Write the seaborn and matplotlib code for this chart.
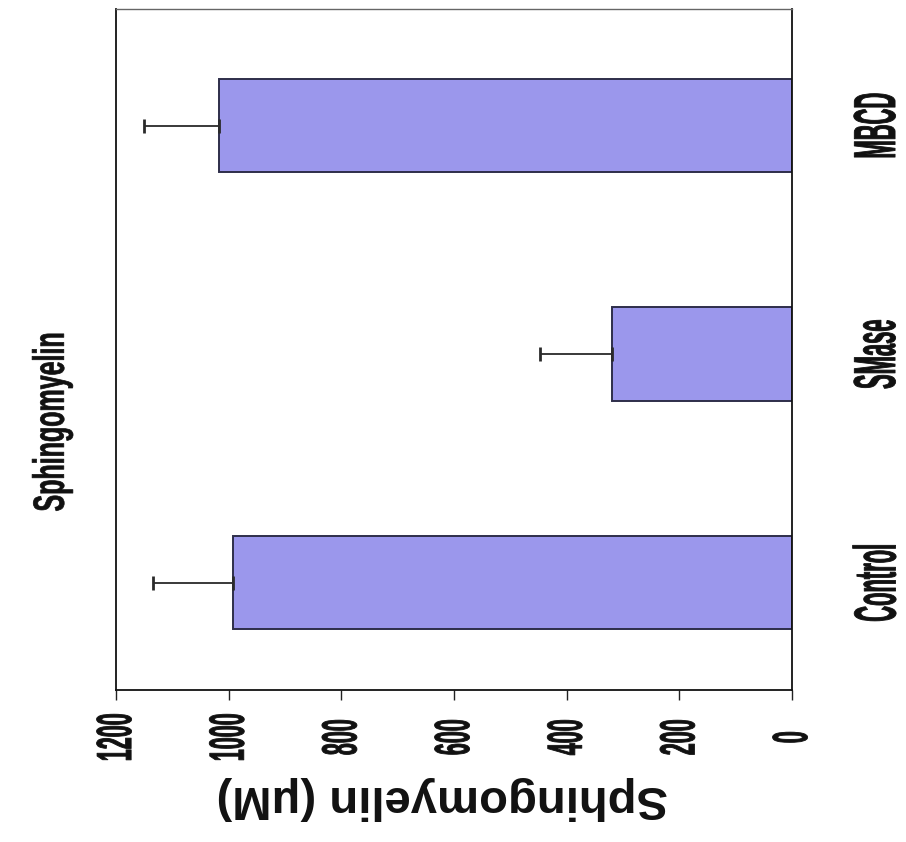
import matplotlib
matplotlib.use("Agg")
import matplotlib.pyplot as plt
import seaborn as sns
import pandas as pd
from matplotlib.patheffects import AbstractPathEffect
from matplotlib.transforms import Affine2D

# ---- data ----
categories = ["Control", "SMase", "MBCD"]
means = [992, 319, 1018]
errors = [142, 128, 133]
x_ticks = [0, 200, 400, 600, 800, 1000, 1200]
title = "Sphingomyelin"
value_label = "Sphingomyelin (\u03bcM)"

sns.set_style("white")
plt.rcParams["font.family"] = ["Liberation Sans", "DejaVu Sans"]


class Stretch(AbstractPathEffect):
    """Stretch glyphs perpendicular to the baseline (tall condensed look)."""

    def __init__(self, sx=1.0, sy=1.0, lw=0.0):
        super().__init__()
        self.sx, self.sy, self.lw = sx, sy, lw

    def draw_path(self, renderer, gc, tpath, affine, rgbFace=None):
        ext = tpath.get_extents()
        cx = (ext.x0 + ext.x1) / 2
        cy = (ext.y0 + ext.y1) / 2
        t = (Affine2D().translate(-cx, -cy).scale(self.sx, self.sy)
             .translate(cx, cy) + affine)
        gc0 = renderer.new_gc()
        gc0.copy_properties(gc)
        if self.lw and rgbFace is not None:
            gc0.set_linewidth(self.lw)
            gc0.set_foreground(rgbFace)
            gc0.set_joinstyle("round")
        renderer.draw_path(gc0, tpath, t, rgbFace)
        gc0.restore()


df = pd.DataFrame({"cat": categories, "val": means})
order = categories[::-1]  # MBCD at top, Control at bottom

fig = plt.figure(figsize=(9.06, 8.42), dpi=100)
ax = fig.add_axes([116 / 906, 1 - 690 / 842, (792 - 116) / 906, (690 - 9) / 842])

sns.barplot(data=df, x="val", y="cat", order=order, orient="h",
            color="#9b97ec", width=0.41, saturation=1,
            edgecolor="#2e2e4a", linewidth=1.4, errorbar=None, ax=ax)

# one-sided error bars toward larger values
pos = {c: i for i, c in enumerate(order)}
ys = [pos[c] for c in categories]
ax.errorbar(means, ys, xerr=[[0] * len(errors), errors], fmt="none",
            ecolor="#2a2a2a", elinewidth=1.3, capsize=5, capthick=2)

ax.set_xlim(1200, 0)
ax.set_ylim(2.47, -0.51)
ax.set_xticks(x_ticks)
xl = ax.set_xticklabels([str(t) for t in x_ticks], rotation=90, va="center",
                        fontweight="bold", fontsize=15.5, color="#111111")
for t in xl:
    t.set_path_effects([Stretch(1.0, 2.3, 0.6)])
ax.tick_params(axis="x", bottom=True, length=7, width=1, pad=27, color="#222222")

ax.yaxis.tick_right()
ax.set_yticks(range(len(order)))
yl = ax.set_yticklabels(order, rotation=90, ha="center", va="center",
                        fontweight="bold", fontsize=15.8, color="#111111")
for t in yl:
    t.set_path_effects([Stretch(1.0, 2.7, 0.6)])
ax.tick_params(axis="y", length=0, pad=61, left=False, right=False)

ax.set_ylabel("")
ax.set_xlabel("")
fig.text(442 / 906, 1 - 798 / 842, value_label, rotation=180, ha="center",
         va="center", fontsize=34, fontweight="bold", color="#111111")

for name, sp in ax.spines.items():
    sp.set_visible(True)
    sp.set_color("#111111")
    sp.set_linewidth(1.3)
ax.spines["top"].set_color("#666666")
ax.spines["top"].set_linewidth(1.0)

tt = fig.text(52 / 906, 1 - 422 / 842, title, rotation=90, ha="center",
              va="center", fontweight="bold", fontsize=18, color="#111111")
tt.set_path_effects([Stretch(1.0, 1.75, 0.5)])

fig.savefig("out.png", dpi=100, facecolor="white")
